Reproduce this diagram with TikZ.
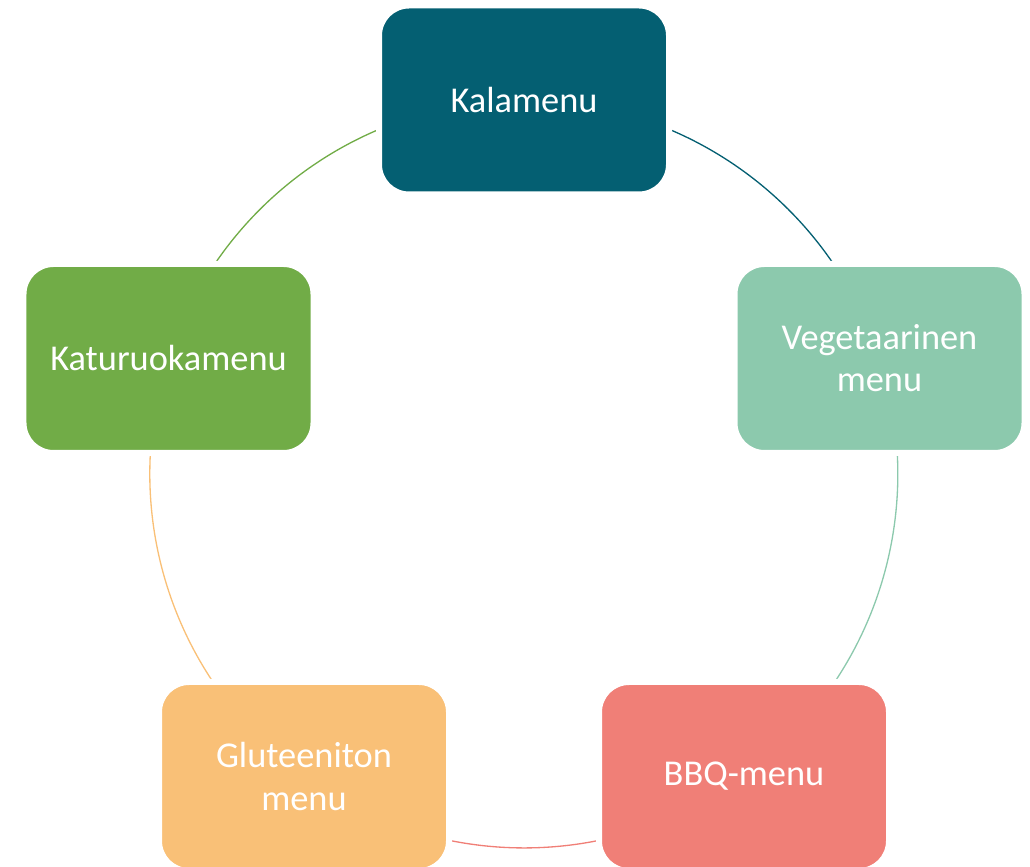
\documentclass[tikz,border=0pt]{standalone}
\usepackage{fontspec}
\setmainfont{Carlito}
\usepackage{tikz}
\usetikzlibrary{positioning, calc, backgrounds}

\definecolor{kalaC}{HTML}{045F72}
\definecolor{vegeC}{HTML}{8CC9AD}
\definecolor{bbqC}{HTML}{F07F77}
\definecolor{glutC}{HTML}{F9C077}
\definecolor{katuC}{HTML}{71AC47}

\tikzset{
  menubox/.style={draw=white, line width=0.12cm, rounded corners=0.6cm,
    minimum width=5.80cm, minimum height=3.78cm, align=center,
    text=white, font=\fontsize{20.7}{24}\selectfont},
  ringline/.style={line width=0.75pt}
}

\begin{document}
\begin{tikzpicture}
    \useasboundingbox (0,0) rectangle (20.6,17.34);

    % Menut kehällä
    \node[menubox, fill=kalaC] (kala) at (10.48,15.34) {Kalamenu};
    \node[menubox, fill=vegeC] (vege) at (17.59,10.17) {Vegetaarinen\\menu};
    \node[menubox, fill=bbqC] (bbq) at (14.88,1.81) {BBQ-menu};
    \node[menubox, fill=glutC] (glut) at (6.08,1.81) {Gluteeniton\\menu};
    \node[menubox, fill=katuC] (katu) at (3.37,10.17) {Katuruokamenu};

    % Kaaret laatikoiden takana
    \begin{scope}[on background layer]
        \draw[ringline, kalaC] (kala.center) arc[start angle=90, end angle=18, radius=7.48];
        \draw[ringline, vegeC] (vege.center) arc[start angle=18, end angle=-54, radius=7.48];
        \draw[ringline, bbqC] (bbq.center) arc[start angle=-54, end angle=-126, radius=7.48];
        \draw[ringline, glutC] (glut.center) arc[start angle=-126, end angle=-198, radius=7.48];
        \draw[ringline, katuC] (katu.center) arc[start angle=162, end angle=90, radius=7.48];
    \end{scope}
\end{tikzpicture}
\end{document}
